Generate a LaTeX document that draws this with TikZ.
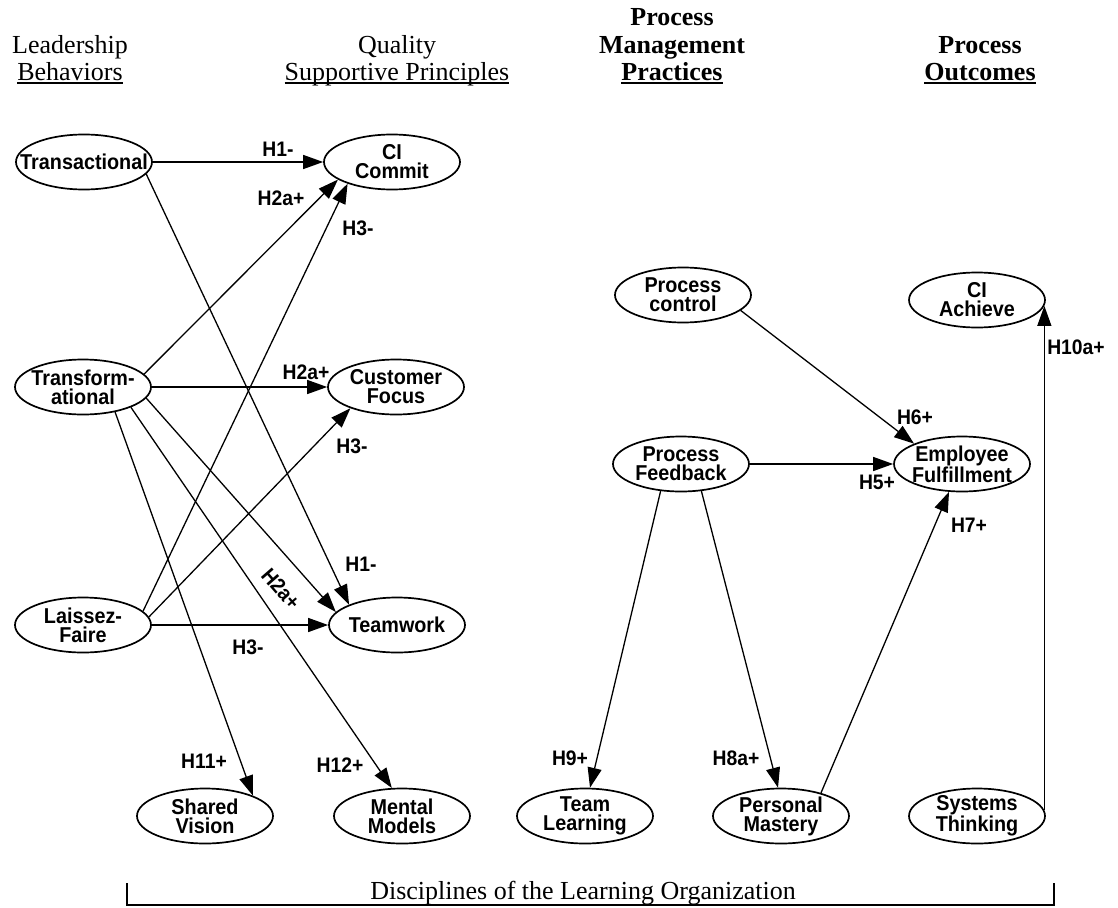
\documentclass[tikz,border=0pt]{standalone}
\usepackage{fontspec}
\setmainfont{Liberation Serif}
\newfontfamily\arialfont{Liberation Sans}[FakeStretch=0.92]
\usetikzlibrary{arrows.meta,shapes.geometric}

% underline set a little below the baseline, through the descenders
\newcommand\hdrule[1]{\setbox0\hbox{#1}\rlap{\rule[-4pt]{\wd0}{1.8pt}}\box0}
% a construct: an ellipse with its (fixed size) text laid over it
\newcommand\construct[3]{%
  \node[concept] (#1) at (#2) {};
  \node[ctext] (#1-t) at (#1.center) {#3};}

\begin{document}
\begin{tikzpicture}[x=1pt,y=-1pt,
  concept/.style={ellipse, draw, line width=1.7pt, minimum width=136pt,
                  minimum height=55pt, inner sep=0pt},
  ctext/.style={font=\arialfont\bfseries\fontsize{21.5}{19}\selectfont,
                align=center, inner sep=0pt},
  hyp/.style={font=\arialfont\bfseries\fontsize{21}{21}\selectfont, inner sep=0pt},
  head/.style={font=\fontsize{26}{27}\selectfont, inner sep=0pt, anchor=base},
  headb/.style={font=\bfseries\fontsize{26}{27}\selectfont, inner sep=0pt, anchor=base},
  link/.style={line width=1.3pt, -{Triangle[length=20pt,width=14pt]}},
  bracket/.style={line width=1.7pt}]
\useasboundingbox (0,0) rectangle (1118,907);

% column headings
\node[head]  (lb1) at (70,53)   {Leadership};
\node[head]  (lb2) at (70,80)   {\hdrule{Behaviors}};
\node[head]  (qs1) at (397,53)  {Quality};
\node[head]  (qs2) at (397,80)  {\hdrule{Supportive Principles}};
\node[headb] (pp1) at (672,26)  {Process};
\node[headb] (pp2) at (672,53)  {Management};
\node[headb] (pp3) at (672,80)  {\hdrule{Practices}};
\node[headb] (po1) at (980,53)  {Process};
\node[headb] (po2) at (980,80)  {\hdrule{Outcomes}};

% leadership behaviors
\construct{tr}{84,162}{Transactional}
\construct{tf}{83,387}{Transform-\\ational}
\construct{lf}{83,625}{Laissez-\\Faire}
% quality supportive principles
\construct{cic}{392,162}{CI\\Commit}
\construct{cf}{396,387}{Customer\\Focus}
\construct{tw}{397,625}{Teamwork}
% process management practices
\construct{pc}{683,295}{Process\\control}
\construct{pf}{681,464}{Process\\Feedback}
% process outcomes
\construct{cia}{977,300}{CI\\Achieve}
\construct{ef}{962,464}{Employee\\Fulfillment}
% disciplines of the learning organization
\construct{sv}{205,816}{Shared\\Vision}
\construct{mm}{402,816}{Mental\\Models}
\construct{tl}{585,816}{Team\\Learning}
\construct{pm}{781,816}{Personal\\Mastery}
\construct{st}{977,816}{Systems\\Thinking}

% hypothesised paths
\draw[link] (tr.east) -- (cic.west);
\draw[link] (tr.-11)  -- (tw.157);
\draw[link] (tf.12)   -- (cic.198);
\draw[link] (lf.13)   -- (cic.206);
\draw[link] (tf.east) -- (cf.west);
\draw[link] (lf.7)    -- (cf.205);
\draw[link] (tf.-10)  -- (tw.168);
\draw[link] (lf.east) -- (tw.west);
\draw[link] (tf.-38)  -- (sv.23);
\draw[link] (tf.-23)  -- (mm.110);
\draw[link] (pc.-15)  -- (ef.157);
\draw[link] (pf.east) -- (ef.west);
\draw[link] (pm.30)   -- (ef.245);
\draw[link] (pf.233)  -- (tl.80);
\draw[link] (pf.-53)  -- (pm.96);
\draw[link] (st.5)    -- (cia.-5);

% hypothesis labels
\node[hyp] (h1a) at (278,149) {H1-};
\node[hyp] (h2a) at (281,198) {H2a+};
\node[hyp] (h3a) at (358,228) {H3-};
\node[hyp] (h2b) at (306,372) {H2a+};
\node[hyp] (h3b) at (352,446) {H3-};
\node[hyp] (h1b) at (361,564) {H1-};
\node[hyp, rotate=-49] (h2c) at (281,589) {H2a+};
\node[hyp] (h3c) at (248,647) {H3-};
\node[hyp] (h11) at (204,761) {H11+};
\node[hyp] (h12) at (340,765) {H12+};
\node[hyp] (h6)  at (915,417) {H6+};
\node[hyp] (h5)  at (877,482) {H5+};
\node[hyp] (h7)  at (969,525) {H7+};
\node[hyp] (h10) at (1076,347) {H10a+};
\node[hyp] (h9)  at (570,758) {H9+};
\node[hyp] (h8)  at (736,758) {H8a+};

% bracket spanning the five disciplines
\coordinate (bl) at (127,883);
\coordinate (br) at (1054,883);
\draw[bracket] (bl) -- (bl |- 0,905) -- (br |- 0,905) -- (br);
\node[head] (disc) at (583,899) {Disciplines of the Learning Organization};
\end{tikzpicture}
\end{document}
